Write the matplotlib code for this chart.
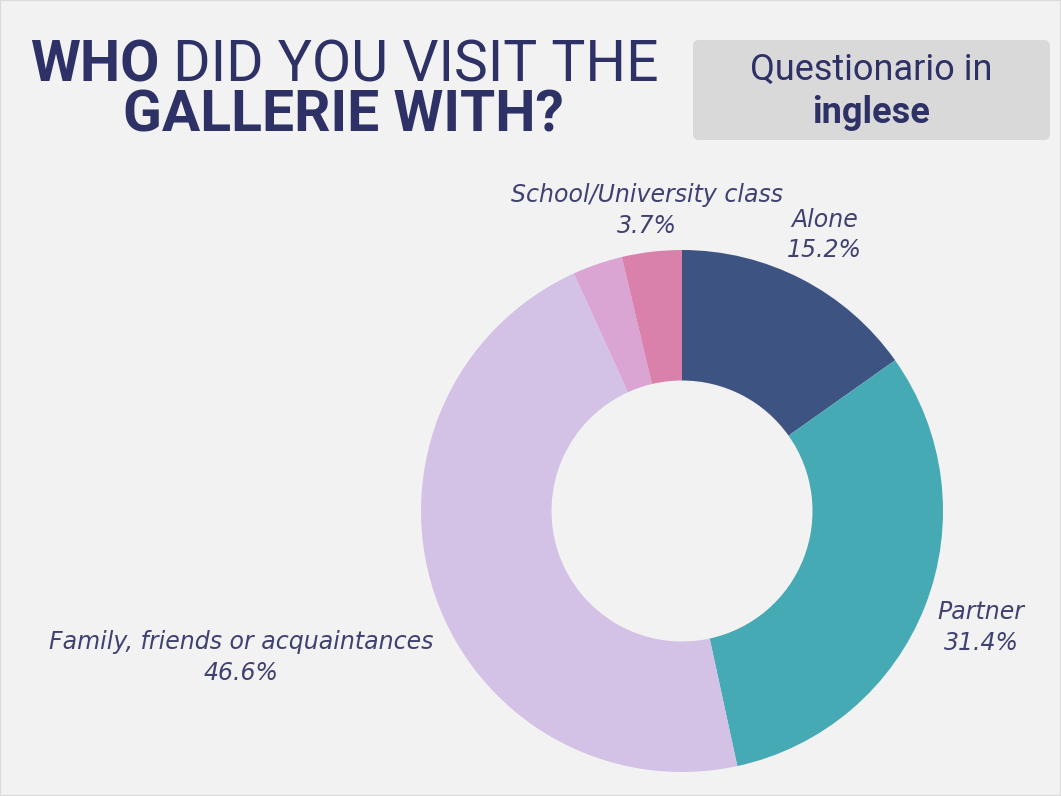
import numpy as np
import matplotlib.pyplot as plt
from matplotlib.patches import FancyBboxPatch, Rectangle

# companions of visitors to the Gallerie (English questionnaire)
groups = ['Alone', 'Partner', 'Family, friends or acquaintances', 'Other', 'School/University class']
shares = [15.2, 31.4, 46.6, 3.1, 3.7]
colors = ['#3d5382', '#46aab5', '#d4c2e6', '#daa5d2', '#d980ab']
# label distance from centre, in pie radii (None = no label)
label_r = [1.19, 1.23, 1.78, None, 1.16]

bg = '#f2f2f2'
navy = '#2e3165'
label_col = '#3f4170'

W, H = 1061, 796
fig = plt.figure(figsize=(W / 100, H / 100), dpi=100, facecolor=bg)
fig.patches.append(Rectangle((0, 0), 1, 1, transform=fig.transFigure,
                             fill=False, edgecolor='#dadada', linewidth=1.5))


def fx(px):
    return px / W


def fy(py):
    return 1 - py / H


# title: bold "WHO" followed by regular text on the first line
t1 = fig.text(fx(30), fy(82), 'WHO', fontsize=41, fontweight='bold',
              family='Roboto', color=navy, va='baseline', ha='left')
fig.canvas.draw()
bb = t1.get_window_extent(fig.canvas.get_renderer())
fig.text(bb.x1 / W, fy(82), ' DID YOU VISIT THE', fontsize=41, family='Roboto',
         color=navy, va='baseline', ha='left')
fig.text(fx(343), fy(131), 'GALLERIE WITH?', fontsize=41, fontweight='bold',
         family='Roboto', color=navy, va='baseline', ha='center')

# grey tag box at top right
box = FancyBboxPatch((6.93, (H - 140) / 100), 3.57, 1.0,
                     boxstyle='round,pad=0,rounding_size=0.06',
                     transform=fig.dpi_scale_trans, facecolor='#d9d9d9',
                     edgecolor='none')
fig.patches.append(box)
fig.text(fx(871), fy(70), 'Questionario in', fontsize=26, family='Roboto',
         color=navy, ha='center', va='center')
fig.text(fx(871), fy(113), 'inglese', fontsize=26, fontweight='bold',
         family='Roboto', color=navy, ha='center', va='center')

# donut
cx, cy, rad = 682, 511, 261
ax = fig.add_axes([fx(cx - rad), fy(cy + rad), 2 * rad / W, 2 * rad / H])
ax.set_facecolor(bg)
wedges, _ = ax.pie(shares, colors=colors, startangle=90, counterclock=False,
                   radius=1, wedgeprops=dict(width=0.5, linewidth=0))
ax.set_xlim(-1, 1)
ax.set_ylim(-1, 1)
ax.set_aspect('equal')
ax.axis('off')

for w, name, val, lr in zip(wedges, groups, shares, label_r):
    if lr is None:
        continue
    ang = np.deg2rad((w.theta1 + w.theta2) / 2)
    ax.text(lr * np.cos(ang), lr * np.sin(ang), f'{name}\n{val}%',
            ha='center', va='center', fontsize=17, style='italic',
            family='DejaVu Sans', color=label_col, linespacing=1.35,
            clip_on=False)

fig.savefig('out.png', dpi=100, facecolor=bg)
